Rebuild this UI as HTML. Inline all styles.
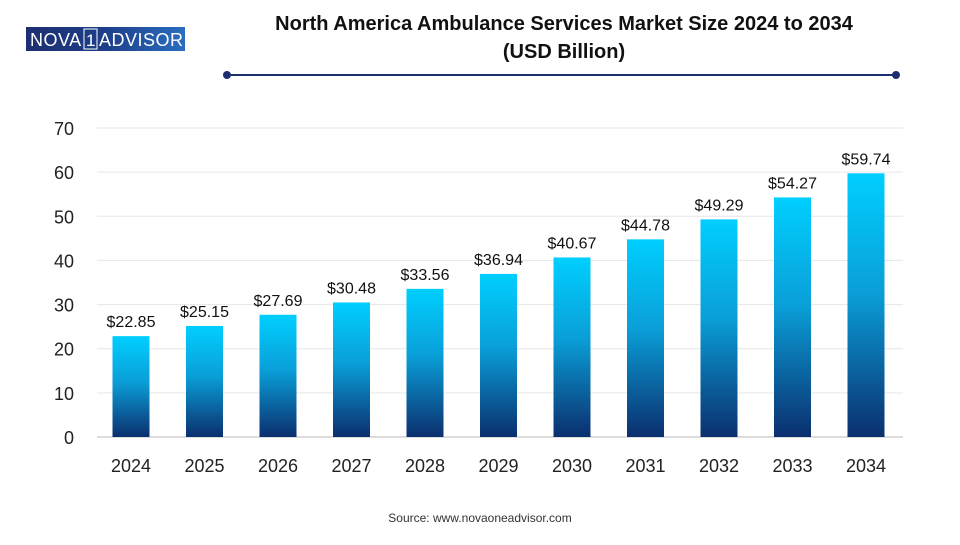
<!DOCTYPE html>
<html><head><meta charset="utf-8"><style>
body{margin:0;width:960px;height:540px;background:#fff;font-family:"Liberation Sans",sans-serif;overflow:hidden}
</style></head><body>
<svg width="960" height="540">
<defs>
<linearGradient id="bg" x1="0" y1="0" x2="0" y2="1">
<stop offset="0" stop-color="#00cfff"/><stop offset="0.45" stop-color="#0a9fd8"/><stop offset="1" stop-color="#0b2f6e"/>
</linearGradient>
<linearGradient id="lg" x1="0" y1="0" x2="1" y2="0">
<stop offset="0" stop-color="#1d2f6f"/><stop offset="0.5" stop-color="#1d3f8a"/><stop offset="1" stop-color="#2a6dc0"/>
</linearGradient>
</defs>
<g>
<rect x="26" y="27" width="159" height="24" fill="url(#lg)"/>
<text x="30" y="46" font-size="18" fill="#fff" letter-spacing="0.5">NOVA</text>
<rect x="84" y="29" width="13" height="20" fill="none" stroke="#fff" stroke-width="1"/>
<text x="86" y="46" font-size="17" fill="#fff">1</text>
<text x="99" y="46" font-size="18" fill="#fff" letter-spacing="0.5">ADVISOR</text>
</g>
<text x="564" y="30" font-size="20" font-weight="bold" text-anchor="middle" fill="#111">North America Ambulance Services Market Size 2024 to 2034</text>
<text x="564" y="58" font-size="20" font-weight="bold" text-anchor="middle" fill="#111">(USD Billion)</text>
<line x1="227" y1="75" x2="896" y2="75" stroke="#1d2f6f" stroke-width="2"/>
<circle cx="227" cy="75" r="4" fill="#1d2f6f"/><circle cx="896" cy="75" r="4" fill="#1d2f6f"/>
<g id="grid"></g><g id="bars"></g>
<text x="480" y="522" font-size="12" text-anchor="middle" fill="#333">Source: www.novaoneadvisor.com</text>
</svg>
<script>
const categories=["2024","2025","2026","2027","2028","2029","2030","2031","2032","2033","2034"];
const values=[22.85,25.15,27.69,30.48,33.56,36.94,40.67,44.78,49.29,54.27,59.74];
const yTicks=[0,10,20,30,40,50,60,70];
const NS="http://www.w3.org/2000/svg";
const y0=437,y70=128,x0=131,step=73.5,bw=37;
const y=v=>y0-(v/70)*(y0-y70);
const x=i=>x0+i*step;
function mk(t,a,p){const e=document.createElementNS(NS,t);for(const k in a)e.setAttribute(k,a[k]);p.appendChild(e);return e;}
const g=document.getElementById('grid'),b=document.getElementById('bars');
yTicks.forEach(t=>{
 const l=mk('line',{x1:97,x2:903,y1:y(t),y2:y(t),stroke:t?'#e6e6e6':'#bbb','stroke-width':1},g);
 
 
 const tx=mk('text',{x:74,y:y(t)+7,'font-size':18,'text-anchor':'end',fill:'#222'},g);tx.textContent=t;
 
 
});
values.forEach((v,i)=>{
 const r=mk('rect',{x:x(i)-bw/2,y:y(v),width:bw,height:y0-y(v),fill:'url(#bg)'},b);
 
 
 const lb=mk('text',{x:x(i),y:y(v)-9,'font-size':16,'text-anchor':'middle',fill:'#111'},b);lb.textContent='$'+v.toFixed(2);
 
 
 const c=mk('text',{x:x(i),y:472,'font-size':18,'text-anchor':'middle',fill:'#222'},b);c.textContent=categories[i];
 
 
});
</script>
</body></html>
